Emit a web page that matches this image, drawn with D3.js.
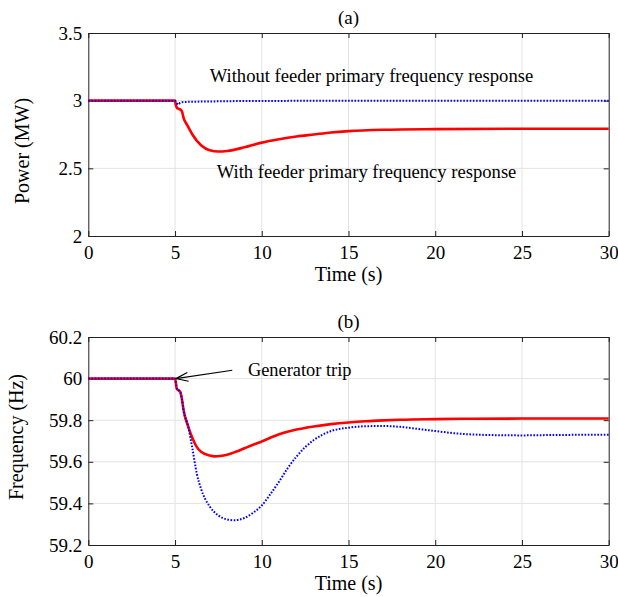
<!DOCTYPE html>
<html>
<head>
<meta charset="utf-8">
<script src="https://cdn.jsdelivr.net/npm/d3@7"></script>
<style>
  body { margin: 0; background: #fff; }
  svg text { font-family: "Liberation Serif", "Times New Roman", serif; fill: #000; }
</style>
</head>
<body>
<svg id="chart" width="618" height="597"></svg>
<script>
// values

// (a) feeder power
var powerTime = [0, 5, 5.05, 5.1, 5.2, 5.3, 5.4, 5.5, 5.7, 6, 6.5, 7, 7.5, 8, 9, 10, 11, 12, 13, 14, 15, 17, 20, 25, 30];
var powerWith = [3, 3, 2.965, 2.95, 2.94, 2.935, 2.92, 2.87, 2.82, 2.75, 2.67, 2.633, 2.624, 2.628, 2.655, 2.69, 2.715, 2.735, 2.75, 2.765, 2.775, 2.785, 2.79, 2.793, 2.793];
var powerTimeNo = [0, 5, 5.1, 5.2, 5.3, 5.5, 6, 7, 8, 10, 15, 20, 30];
var powerWithout = [3, 3, 2.98, 2.972, 2.985, 2.99, 2.992, 2.994, 2.996, 2.998, 2.999, 3, 3];

// (b) system frequency
var freqTimeWith = [0, 5, 5.1, 5.3, 5.4, 5.5, 5.75, 6, 6.25, 6.5, 7, 7.3, 7.6, 8, 8.5, 9, 9.5, 10, 11, 12, 13, 14, 15, 16, 17, 18, 20, 22, 25, 30];
var freqWith = [60, 60, 59.952, 59.936, 59.9, 59.845, 59.772, 59.715, 59.672, 59.648, 59.63, 59.626, 59.628, 59.634, 59.648, 59.665, 59.682, 59.698, 59.732, 59.755, 59.77, 59.781, 59.789, 59.795, 59.799, 59.802, 59.805, 59.807, 59.808, 59.808];
var freqTimeWithout = [0, 5, 5.1, 5.3, 5.4, 5.5, 5.75, 6, 6.25, 6.5, 7, 7.5, 8, 8.4, 9, 9.5, 10, 10.5, 11, 11.5, 12, 12.5, 13, 13.5, 14, 15, 16, 17, 18, 19, 20, 21, 22, 23, 25, 27, 30];
var freqWithout = [60, 60, 59.952, 59.936, 59.9, 59.845, 59.772, 59.665, 59.545, 59.47, 59.385, 59.342, 59.323, 59.319, 59.33, 59.355, 59.39, 59.445, 59.505, 59.57, 59.625, 59.67, 59.705, 59.73, 59.748, 59.764, 59.771, 59.772, 59.768, 59.758, 59.748, 59.738, 59.732, 59.729, 59.727, 59.729, 59.73];

var timeTicks = [0, 5, 10, 15, 20, 25, 30];
var powerTicks = [2, 2.5, 3, 3.5];
var freqTicks = [59.2, 59.4, 59.6, 59.8, 60, 60.2];

var svg = d3.select("#chart");

var left = 88.3, right = 608.7;
var serif = "Liberation Serif, Times New Roman, serif";

function panel(cfg) {
  var x = d3.scaleLinear().domain([0, 30]).range([left, right]);
  var y = d3.scaleLinear().domain(cfg.yDomain).range([cfg.bottom, cfg.top]);
  var g = svg.append("g");

  // grid
  g.append("g").selectAll("line").data(timeTicks.slice(1, -1)).enter().append("line")
    .attr("x1", x).attr("x2", x).attr("y1", cfg.top).attr("y2", cfg.bottom)
    .attr("stroke", "#e3e3e3").attr("stroke-width", 1);
  g.append("g").selectAll("line").data(cfg.yTicks.slice(1, -1)).enter().append("line")
    .attr("y1", y).attr("y2", y).attr("x1", left).attr("x2", right)
    .attr("stroke", "#e3e3e3").attr("stroke-width", 1);

  // axes, ticks pointing inward
  var ax = g.append("g").attr("transform", "translate(0," + cfg.bottom + ")")
    .call(d3.axisBottom(x).tickValues(timeTicks).tickSize(-5).tickSizeOuter(0).tickPadding(10).tickFormat(d3.format("d")));
  var axT = g.append("g").attr("transform", "translate(0," + cfg.top + ")")
    .call(d3.axisTop(x).tickValues(timeTicks).tickSize(-5).tickSizeOuter(0).tickFormat(""));
  var ay = g.append("g").attr("transform", "translate(" + left + ",0)")
    .call(d3.axisLeft(y).tickValues(cfg.yTicks).tickSize(-5).tickSizeOuter(0).tickPadding(6).tickFormat(cfg.fmt));
  var ayR = g.append("g").attr("transform", "translate(" + right + ",0)")
    .call(d3.axisRight(y).tickValues(cfg.yTicks).tickSize(-5).tickSizeOuter(0).tickFormat(""));
  [ax, axT, ay, ayR].forEach(function(a) {
    a.attr("font-family", serif).attr("font-size", 19);
    a.selectAll("line, path").attr("stroke", "#222");
  });

  var line = function(ts, vs) {
    return d3.line().curve(d3.curveMonotoneX)
      .x(function(d, i) { return x(ts[i]); })
      .y(function(d) { return y(d); })(vs);
  };

  g.append("path").attr("d", line(cfg.redT, cfg.red))
    .attr("fill", "none").attr("stroke", "#ff0000").attr("stroke-width", 2.6);
  g.append("path").attr("d", line(cfg.blueT, cfg.blue))
    .attr("fill", "none").attr("stroke", "#0000ff").attr("stroke-width", 2)
    .attr("stroke-dasharray", "1.6,1.6");

  g.append("text").attr("x", (left + right) / 2).attr("y", cfg.top - 9)
    .attr("text-anchor", "middle").style("font-size", "19px").text(cfg.title);
  g.append("text").attr("x", (left + right) / 2).attr("y", cfg.bottom + 45)
    .attr("text-anchor", "middle").style("font-size", "20px").text("Time (s)");
  g.append("text").attr("transform", "translate(" + cfg.ylabX + "," + cfg.ylabY + ") rotate(-90)")
    .attr("text-anchor", "middle").style("font-size", "20px").text(cfg.ylab);

  return {g: g, x: x, y: y};
}

var pa = panel({
  top: 33, bottom: 236, yDomain: [2, 3.5], yTicks: powerTicks, fmt: d3.format(""),
  redT: powerTime, red: powerWith, blueT: powerTimeNo, blue: powerWithout,
  title: "(a)", ylab: "Power (MW)", ylabX: 29, ylabY: 151
});

pa.g.append("text").attr("x", pa.x(7.0)).attr("y", pa.y(3.135))
  .style("font-size", "18.6px").text("Without feeder primary frequency response");
pa.g.append("text").attr("x", pa.x(7.4)).attr("y", pa.y(2.43))
  .style("font-size", "18.6px").text("With feeder primary frequency response");

var pb = panel({
  top: 337, bottom: 545, yDomain: [59.2, 60.2], yTicks: freqTicks, fmt: d3.format(""),
  redT: freqTimeWith, red: freqWith, blueT: freqTimeWithout, blue: freqWithout,
  title: "(b)", ylab: "Frequency (Hz)", ylabX: 23, ylabY: 437
});

// arrow pointing at the trip instant
var tipX = pb.x(5.05), tipY = pb.y(60), tailX = pb.x(8.3), tailY = pb.y(60.04);
var ang = Math.atan2(tailY - tipY, tailX - tipX);
pb.g.append("line").attr("x1", tailX).attr("y1", tailY).attr("x2", tipX).attr("y2", tipY)
  .attr("stroke", "#000").attr("stroke-width", 1.2);
pb.g.append("path")
  .attr("d", "M" + (tipX + 13 * Math.cos(ang - 0.35)) + "," + (tipY + 13 * Math.sin(ang - 0.35)) +
    "L" + tipX + "," + tipY +
    "L" + (tipX + 13 * Math.cos(ang + 0.35)) + "," + (tipY + 13 * Math.sin(ang + 0.35)))
  .attr("fill", "none").attr("stroke", "#000").attr("stroke-width", 1.2);
pb.g.append("text").attr("x", pb.x(9.2)).attr("y", pb.y(60.04) + 6)
  .style("font-size", "18.4px").text("Generator trip");
</script>
</body>
</html>
